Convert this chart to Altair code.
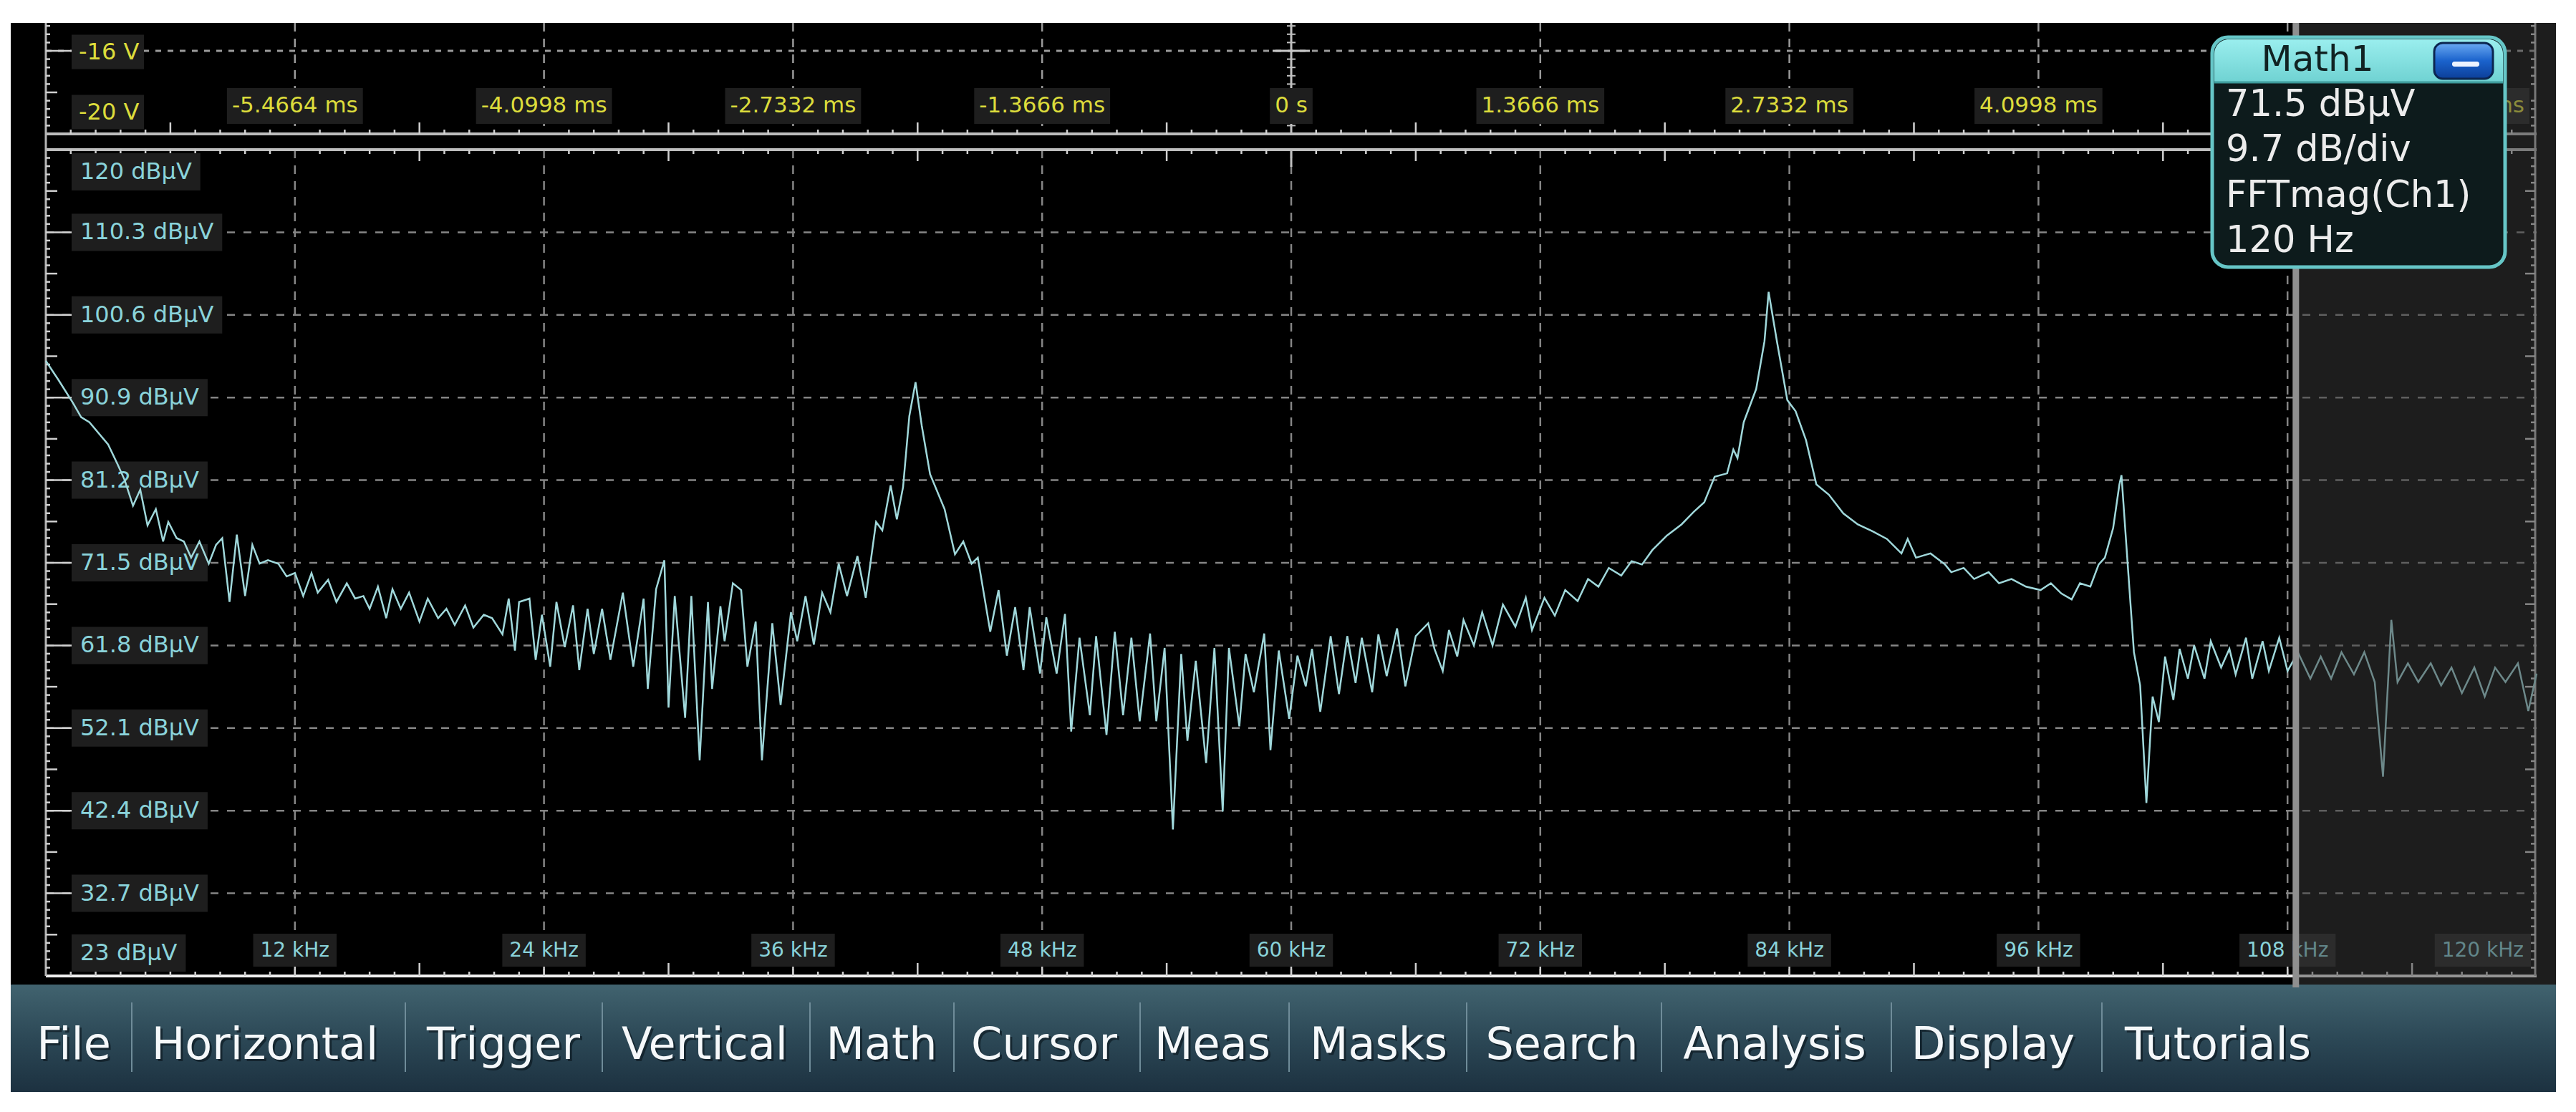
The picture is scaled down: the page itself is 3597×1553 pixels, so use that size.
import altair as alt
import pandas as pd

# ---------------- data ----------------
FREQ_KHZ = [
    0.0, 0.6, 1.3, 1.7, 2.1, 3.0, 3.45, 3.8, 4.2, 4.55, 4.9, 5.3, 5.65, 5.9, 6.3, 6.65, 7.0, 7.4, 7.85, 8.2,
    8.5, 8.85, 9.2, 9.6, 9.95, 10.3, 10.7, 11.2, 11.6, 12.0, 12.4, 12.8, 13.1, 13.6, 14.0, 14.5, 14.9, 15.3,
    15.6, 16.0, 16.4, 16.7, 17.1, 17.5, 18.0, 18.4, 18.9, 19.3, 19.7, 20.2, 20.6, 21.1, 21.5, 22.0, 22.3,
    22.6, 22.8, 23.3, 23.6, 23.9, 24.3, 24.6, 25.0, 25.4, 25.7, 26.1, 26.4, 26.8, 27.2, 27.8, 28.3, 28.8,
    29.0, 29.4, 29.8, 30.0, 30.3, 30.8, 31.1, 31.5, 31.9, 32.1,
    32.5, 32.7, 33.1, 33.5, 33.8, 34.2, 34.5, 35.0, 35.4, 35.9, 36.2, 36.6, 37.0, 37.4, 37.8, 38.2, 38.6,
    39.1, 39.5, 40.0, 40.3, 40.7, 41.0, 41.3, 41.6, 41.9, 42.2, 42.6, 43.3, 43.8, 44.2, 44.6, 44.9, 45.5,
    45.9, 46.3, 46.7, 47.1, 47.4, 47.9, 48.2, 48.7, 49.1, 49.4, 49.8, 50.3, 50.6, 51.1, 51.5, 51.9, 52.3,
    52.7, 53.2, 53.5, 53.9, 54.3, 54.7, 55.0, 55.4, 55.9, 56.3, 56.7, 57.0, 57.5, 57.8, 58.2, 58.7, 59.0,
    59.4, 59.9, 60.3, 60.7, 61.0, 61.4, 61.9, 62.3, 62.7, 63.1, 63.4, 63.9, 64.2, 64.6, 65.1, 65.5, 66.0,
    66.6,
    66.9, 67.3, 67.6, 68.0, 68.3, 68.8, 69.2, 69.7, 70.2, 70.8, 71.3, 71.6, 72.2, 72.7, 73.2, 73.8, 74.3,
    74.8, 75.3, 75.9, 76.4, 76.9, 77.4, 78.1, 78.8, 79.4, 79.9, 80.4, 81.0, 81.3, 81.5, 81.8, 82.4, 82.8,
    83.0, 83.4, 83.9, 84.3, 84.8, 85.3, 85.9, 86.6, 87.3, 88.0, 88.7, 89.4, 89.7, 90.1, 90.8, 91.5, 91.8,
    92.4, 92.9, 93.6, 94.1, 94.7, 95.4, 96.1, 96.6, 97.1, 97.6, 98.0, 98.5, 98.9, 99.2, 99.6, 99.9, 100.0,
    100.3, 100.6, 100.9, 101.2, 101.5, 101.8, 102.1, 102.5, 102.8, 103.2, 103.5, 104.0, 104.3, 104.8,
    105.2, 105.5, 106.0, 106.3, 106.8, 107.1, 107.6, 108.0, 108.5, 109.1, 109.6, 110.1, 110.6, 111.2,
    111.7, 112.2, 112.6, 113.0, 113.3, 113.8, 114.3, 114.9, 115.4, 115.9, 116.4, 117.0, 117.5, 118.0,
    118.5, 119.1, 119.6, 120.0,
]
LEVEL_DBUV = [
    95.2, 93.0, 90.3, 88.6, 88.0, 85.4, 83.1, 81.2, 78.2, 80.1, 75.9, 77.8, 74.0, 76.3, 74.4, 74.0, 72.1, 74.0,
    71.4, 73.6, 74.4, 66.9, 74.8, 67.6, 73.6, 71.4, 71.8, 71.4, 69.9, 70.3, 67.6, 70.3, 68.0, 69.5, 66.9,
    69.1, 67.3, 67.6, 66.1, 68.7, 65.0, 68.4, 66.1, 68.0, 64.6, 67.3, 65.0, 66.1, 64.2, 66.5, 63.9, 65.4,
    65.0, 63.1, 67.3, 61.2, 66.9, 67.3, 60.1, 65.4, 59.3, 66.9, 61.6, 66.5, 58.9, 66.1, 60.8, 66.1, 60.1,
    68.0, 59.3, 67.3, 56.7, 68.4, 71.8, 54.5, 67.6, 53.3, 67.6, 48.3, 66.9, 56.7,
    66.4, 62.3, 69.1, 68.3, 59.3, 64.6, 48.3, 64.4, 54.8, 65.7, 62.3, 67.6, 61.9, 68.0, 65.7, 71.4, 67.6,
    72.3, 67.4, 76.3, 75.3, 80.6, 76.6, 80.4, 88.7, 92.7, 87.6, 81.9, 77.8, 72.5, 74.0, 71.4, 72.1, 63.4,
    68.3, 60.6, 66.3, 58.9, 66.3, 58.5, 65.1, 58.5, 65.5, 51.7, 62.7, 53.6, 62.9, 51.3, 63.4, 53.6, 62.7,
    52.9, 63.2, 52.9, 61.5, 40.2, 60.8, 50.6, 60.0, 48.0, 61.5, 42.3, 61.5, 52.3, 60.8, 56.3, 63.2, 49.5,
    61.2, 53.2, 60.6, 57.0, 61.4, 54.0, 62.9, 56.1, 62.9, 57.4, 62.7, 56.3, 63.1, 58.2, 63.8, 57.0, 62.9,
    64.4,
    61.4, 58.8, 63.6, 60.5, 64.8, 61.8, 65.7, 61.8, 66.6, 64.0, 67.4, 63.6, 67.4, 65.3, 68.3, 67.0, 69.6,
    68.7, 70.9, 70.0, 71.7, 71.3, 73.0, 74.7, 76.0, 77.5, 78.6, 81.6, 82.0, 84.8, 83.8, 88.0, 91.9, 97.5,
    103.3, 97.5, 90.6, 89.3, 85.9, 80.7, 79.5, 77.3, 76.0, 75.2, 74.3, 72.6, 74.3, 72.1, 72.6, 71.3, 70.4,
    70.9, 69.6, 70.4, 69.1, 69.6, 68.7, 68.3, 69.1, 67.9, 67.2, 69.1, 68.7, 71.3, 72.1, 75.6, 80.7, 81.8,
    71.3, 61.0, 57.1, 43.3, 55.8, 52.8, 60.5, 55.4, 61.4, 57.9, 61.8, 57.9, 62.3, 59.2,
    61.4, 58.4, 62.7, 57.9, 62.3, 58.8, 62.7, 58.8, 61.0, 57.9, 60.5, 57.9, 61.0, 58.4,
    61.0, 57.5, 46.4, 64.8, 57.5, 59.7, 57.5, 59.7, 57.1, 59.2, 56.2, 59.2, 55.8, 59.2,
    57.5, 59.7, 54.1, 58.5,
]

Y_TICKS = [120, 110.3, 100.6, 90.9, 81.2, 71.5, 61.8, 52.1, 42.4, 32.7, 23]
Y_LABELS = ["120 dBµV", "110.3 dBµV", "100.6 dBµV", "90.9 dBµV", "81.2 dBµV", "71.5 dBµV",
            "61.8 dBµV", "52.1 dBµV", "42.4 dBµV", "32.7 dBµV", "23 dBµV"]
X_TICKS = [12, 24, 36, 48, 60, 72, 84, 96, 108, 120]
X_LABELS = ["12 kHz", "24 kHz", "36 kHz", "48 kHz", "60 kHz", "72 kHz", "84 kHz", "96 kHz",
            "108 kHz", "120 kHz"]
# time labels of the upper panel (the 5.4664 ms one is hidden behind the Math1 box,
# of the right-edge one only "ms" is visible)
T_TICKS = [-5.4664, -4.0998, -2.7332, -1.3666, 0, 1.3666, 2.7332, 4.0998, 6.833]
T_LABELS = ["-5.4664 ms", "-4.0998 ms", "-2.7332 ms", "-1.3666 ms", "0 s", "1.3666 ms",
            "2.7332 ms", "4.0998 ms", "ms"]
V_TICKS = [-16, -20]
V_LABELS = ["-16 V", "-20 V"]
GATE_KHZ = 108.4
MATH_TITLE = "Math1"
MATH_LINES = ["71.5 dBµV", "9.7 dB/div", "FFTmag(Ch1)", "120 Hz"]
MENU_ITEMS = ["File", "Horizontal", "Trigger", "Vertical", "Math", "Cursor", "Meas", "Masks",
              "Search", "Analysis", "Display", "Tutorials"]

# ---------------- layout ----------------
W, H = 3478, 1154
PPK = W / 120.0
PPD = H / 97.0
PPV = 116 / 4.0
PPT = W / 13.666
FONT = "DejaVu Sans"
MENU_CX = [39, 306, 639, 920, 1167, 1394, 1629, 1861, 2117, 2414, 2719, 3033]
MENU_SEP = [120, 502, 777, 1067, 1268, 1528, 1736, 1984, 2256, 2577, 2871]
MATH_Y = [-62, 1, 65, 128]

F_SCALE = alt.Scale(domain=[0, 120], nice=False, zero=False)
DB_SCALE = alt.Scale(domain=[23, 120], nice=False, zero=False)
T_SCALE = alt.Scale(domain=[-6.833, 6.833], nice=False, zero=False)
V_SCALE = alt.Scale(domain=[-20, -16], range=[-22, -138], nice=False, zero=False)

ONE = pd.DataFrame({"k": [0]})

CW = {".": .318, " ": .318, "-": .361, "k": .579, "H": .752, "z": .525, "m": .974, "s": .521,
      "d": .635, "B": .686, "µ": .636, "V": .684}


def text_w(s, size):
    return sum(CW.get(c, .636) for c in s) * size


def df(name, vals):
    return pd.DataFrame({name: vals})


def box(x0, x1, y0, y1, **kw):
    return alt.Chart(ONE).mark_rect(**kw).encode(
        x=alt.value(x0), x2=alt.value(x1), y=alt.value(y0), y2=alt.value(y1))


def vrules(data, field, scale, y0, y1, **kw):
    return alt.Chart(data).mark_rule(**kw).encode(
        x=alt.X(f"{field}:Q", scale=scale, axis=None), y=alt.value(y0), y2=alt.value(y1))


def hrules(data, field, scale, x0, x1, **kw):
    return alt.Chart(data).mark_rule(**kw).encode(
        y=alt.Y(f"{field}:Q", scale=scale, axis=None), x=alt.value(x0), x2=alt.value(x1))


def hline(x0, x1, y, **kw):
    return alt.Chart(ONE).mark_rule(**kw).encode(x=alt.value(x0), x2=alt.value(x1), y=alt.value(y))


def vline(x, y0, y1, **kw):
    return alt.Chart(ONE).mark_rule(**kw).encode(x=alt.value(x), y=alt.value(y0), y2=alt.value(y1))


def label(txt, x, y, **kw):
    return alt.Chart(ONE).mark_text(**kw).encode(x=alt.value(x), y=alt.value(y), text=alt.value(txt))


layers = []

# screen background + menu bar
layers.append(box(-49, 3505, -177, 1166, fill="#000000"))
menu_grad = alt.LinearGradient(gradient="linear", x1=0, x2=0, y1=0, y2=1, stops=[
    alt.GradientStop(color="#41636f", offset=0), alt.GradientStop(color="#2c4856", offset=0.5),
    alt.GradientStop(color="#1c3140", offset=1)])
layers.append(box(-49, 3505, 1166, 1316, fill=menu_grad))
for sx in MENU_SEP:
    layers.append(vline(sx, 1191, 1288, color="#6f8c99", strokeWidth=2))
for item, cx in zip(MENU_ITEMS, MENU_CX):
    layers.append(label(item, cx + 3, 1254, font=FONT, fontSize=62, color="#0d1a22", align="center",
                        baseline="middle", opacity=0.7))
    layers.append(label(item, cx, 1251, font=FONT, fontSize=62, color="#f5f8fa", align="center",
                        baseline="middle"))

# grid (bottom panel)
GRID = dict(color="#858585", strokeWidth=2.5)
layers.append(vrules(df("f", X_TICKS[:-1]), "f", F_SCALE, 0, H, strokeDash=[12, 10], **GRID))
layers.append(hrules(df("db", Y_TICKS[1:-1]), "db", DB_SCALE, 0, W, strokeDash=[11, 12], **GRID))
# grid (top panel)
layers.append(vrules(df("f", [f for f in X_TICKS[:-1] if f != 60]), "f", F_SCALE, -177, -22,
                     strokeDash=[12, 10], color="#9a9a9a", strokeWidth=2.5))
layers.append(hrules(df("v", [-16]), "v", V_SCALE, 0, W, strokeDash=[8, 9], color="#9c9c9c",
                     strokeWidth=3))
layers.append(vrules(df("t", [0]), "t", T_SCALE, -177, -22, color="#c0c0c0", strokeWidth=3))
layers.append(vrules(df("t", [0]), "t", T_SCALE, 0, 24, color="#c0c0c0", strokeWidth=3))
cross = pd.DataFrame({"v": [-20 + 0.4 * i for i in range(1, 14)]})
cross["t0"] = -6 / PPT
cross["t1"] = 6 / PPT
layers.append(alt.Chart(cross).mark_rule(color="#c0c0c0", strokeWidth=2).encode(
    x=alt.X("t0:Q", scale=T_SCALE, axis=None), x2="t1:Q", y=alt.Y("v:Q", scale=V_SCALE, axis=None)))
seg = pd.DataFrame({"v": [-16], "t0": [-26 / PPT], "t1": [26 / PPT]})
layers.append(alt.Chart(seg).mark_rule(color="#c8c8c8", strokeWidth=3).encode(
    x=alt.X("t0:Q", scale=T_SCALE, axis=None), x2="t1:Q", y=alt.Y("v:Q", scale=V_SCALE, axis=None)))

# axis lines
layers.append(hline(0, W, H, color="#f0f0f0", strokeWidth=4))
layers.append(hline(0, W, 0, color="#bdbdbd", strokeWidth=4))
layers.append(hline(0, W, -22, color="#bdbdbd", strokeWidth=4))
layers.append(vline(0, -177, H, color="#b5b5b5", strokeWidth=3))
layers.append(vline(W - 2, -177, H, color="#b5b5b5", strokeWidth=3))

# ruler ticks
KHZ_MINOR = [round(1.2 * i, 2) for i in range(1, 100) if i % 5 != 0]
KHZ_MID = [6 + 12 * i for i in range(10)]
DB_MINOR = [23 + 0.97 * i for i in range(1, 100) if i % 5 != 0]
DB_MID = [23 + 4.85 + 9.7 * i for i in range(10)]
V_MINOR = [-20 + 0.4 * i for i in range(1, 14) if i % 5 != 0]
TK = dict(color="#d0d0d0", strokeWidth=2.5)
layers.append(vrules(df("f", KHZ_MINOR), "f", F_SCALE, H - 6, H, **TK))
layers.append(vrules(df("f", KHZ_MID), "f", F_SCALE, H - 18, H, **TK))
layers.append(vrules(df("f", X_TICKS[:-1]), "f", F_SCALE, H - 30, H, **TK))
layers.append(vrules(df("f", KHZ_MINOR), "f", F_SCALE, 0, 6, **TK))
layers.append(vrules(df("f", KHZ_MID), "f", F_SCALE, 0, 16, **TK))
layers.append(vrules(df("f", KHZ_MINOR), "f", F_SCALE, -28, -22, **TK))
layers.append(vrules(df("f", KHZ_MID), "f", F_SCALE, -38, -22, **TK))
layers.append(hrules(df("db", DB_MINOR), "db", DB_SCALE, 0, 6, **TK))
layers.append(hrules(df("db", DB_MID), "db", DB_SCALE, 0, 16, **TK))
layers.append(hrules(df("db", Y_TICKS[1:-1]), "db", DB_SCALE, 0, 36, **TK))
layers.append(hrules(df("db", DB_MINOR), "db", DB_SCALE, W - 8, W - 2, **TK))
layers.append(hrules(df("db", DB_MID), "db", DB_SCALE, W - 16, W - 2, **TK))
layers.append(hrules(df("v", V_MINOR), "v", V_SCALE, 0, 6, **TK))
layers.append(hrules(df("v", [-18]), "v", V_SCALE, 0, 16, **TK))
layers.append(hrules(df("v", [-16]), "v", V_SCALE, 0, 36, **TK))
layers.append(hrules(df("v", V_MINOR), "v", V_SCALE, W - 8, W - 2, **TK))

BOXC = "#1e1e1e"
CYAN = "#8ad3da"
YEL = "#dcdc3c"

# y labels (dBµV)
yl = pd.DataFrame({"db": Y_TICKS, "label": Y_LABELS})
n = len(yl)
off = [31 if i == 0 else (-32 if i == n - 1 else 0) for i in range(n)]
yl["yc"] = [v - o / PPD for v, o in zip(Y_TICKS, off)]
yl["y0"] = yl["yc"] - 26 / PPD
yl["y1"] = yl["yc"] + 26 / PPD
yl["x0"] = 36 / PPK
yl["x1"] = [(36 + text_w(s, 32) + 24) / PPK for s in Y_LABELS]
layers.append(alt.Chart(yl).mark_rect(fill=BOXC).encode(
    x=alt.X("x0:Q", scale=F_SCALE, axis=None), x2="x1:Q",
    y=alt.Y("y0:Q", scale=DB_SCALE, axis=None), y2="y1:Q"))
layers.append(alt.Chart(yl).mark_text(font=FONT, fontSize=32, color=CYAN, align="left",
                                      baseline="middle").encode(
    x=alt.value(48), y=alt.Y("yc:Q", scale=DB_SCALE, axis=None), text="label:N"))

# x labels (kHz)
xl = pd.DataFrame({"f": X_TICKS, "label": X_LABELS})
xw = [text_w(s, 28) + 20 for s in X_LABELS]
cpx = [f * PPK for f in X_TICKS]
cpx[-1] = W - 8 - xw[-1] / 2
xl["cf"] = [c / PPK for c in cpx]
xl["x0"] = [(c - w / 2) / PPK for c, w in zip(cpx, xw)]
xl["x1"] = [(c + w / 2) / PPK for c, w in zip(cpx, xw)]
layers.append(alt.Chart(xl).mark_rect(fill=BOXC).encode(
    x=alt.X("x0:Q", scale=F_SCALE, axis=None), x2="x1:Q", y=alt.value(1095), y2=alt.value(1141)))
layers.append(alt.Chart(xl).mark_text(font=FONT, fontSize=28, color=CYAN, align="center",
                                      baseline="middle").encode(
    x=alt.X("cf:Q", scale=F_SCALE, axis=None), y=alt.value(1119), text="label:N"))

# time labels (top panel)
tl = pd.DataFrame({"t": T_TICKS, "label": T_LABELS})
tw = [text_w(s, 31) + 14 for s in T_LABELS]
tpx = [(t + 6.833) * PPT for t in T_TICKS]
tpx[-1] = W - 10 - tw[-1] / 2
tl["tc"] = [p / PPT - 6.833 for p in tpx]
tl["t0"] = [(p - w / 2) / PPT - 6.833 for p, w in zip(tpx, tw)]
tl["t1"] = [(p + w / 2) / PPT - 6.833 for p, w in zip(tpx, tw)]
layers.append(alt.Chart(tl).mark_rect(fill=BOXC).encode(
    x=alt.X("t0:Q", scale=T_SCALE, axis=None), x2="t1:Q", y=alt.value(-86), y2=alt.value(-36)))
layers.append(alt.Chart(tl).mark_text(font=FONT, fontSize=31, color=YEL, align="center",
                                      baseline="middle").encode(
    x=alt.X("tc:Q", scale=T_SCALE, axis=None), y=alt.value(-61), text="label:N"))

# volt labels (top panel)
vl = pd.DataFrame({"v": V_TICKS, "label": V_LABELS})
vl["vc"] = [V_TICKS[0] - 1.5 / PPV, V_TICKS[1] + 30.5 / PPV]
vl["v0"] = vl["vc"] - 24 / PPV
vl["v1"] = vl["vc"] + 24 / PPV
layers.append(alt.Chart(vl).mark_rect(fill=BOXC).encode(
    x=alt.value(36), x2=alt.value(137), y=alt.Y("v0:Q", scale=V_SCALE, axis=None), y2="v1:Q"))
layers.append(alt.Chart(vl).mark_text(font=FONT, fontSize=32, color=YEL, align="left",
                                      baseline="middle").encode(
    x=alt.value(46), y=alt.Y("vc:Q", scale=V_SCALE, axis=None), text="label:N"))

# FFT trace
trace = pd.DataFrame({"f": FREQ_KHZ, "db": LEVEL_DBUV})
layers.append(alt.Chart(trace).mark_line(color="#a0d8db", strokeWidth=2.5).encode(
    x=alt.X("f:Q", scale=F_SCALE, axis=None), y=alt.Y("db:Q", scale=DB_SCALE, axis=None)))

# gated (shaded) region beyond the gate cursor
layers.append(alt.Chart(df("f", [GATE_KHZ])).mark_rect(fill="#3a3a3a", opacity=0.5).encode(
    x=alt.X("f:Q", scale=F_SCALE, axis=None), x2=alt.value(3505), y=alt.value(-177),
    y2=alt.value(1166)))
layers.append(vrules(df("f", [GATE_KHZ]), "f", F_SCALE, -177, 1170, color="#8f8f8f",
                     strokeWidth=9))

# Math1 readout box
layers.append(box(3025, 3434, -157, 164, fill="#0d1b1c", stroke="#66c6c7", strokeWidth=5,
                  cornerRadius=22))
hdr_grad = alt.LinearGradient(gradient="linear", x1=0, x2=0, y1=0, y2=1, stops=[
    alt.GradientStop(color="#9aeeee", offset=0), alt.GradientStop(color="#6fd2d2", offset=1)])
layers.append(alt.Chart(ONE).mark_rect(fill=hdr_grad, cornerRadiusTopLeft=20,
                                        cornerRadiusTopRight=20).encode(
    x=alt.value(3028), x2=alt.value(3431), y=alt.value(-154), y2=alt.value(-94)))
layers.append(hline(3028, 3431, -94, color="#3f9c9c", strokeWidth=3))
btn_grad = alt.LinearGradient(gradient="linear", x1=0, x2=0, y1=0, y2=1, stops=[
    alt.GradientStop(color="#6aaaf2", offset=0), alt.GradientStop(color="#1a62cc", offset=0.5),
    alt.GradientStop(color="#0c3f98", offset=1)])
layers.append(box(3335, 3417, -149, -99, fill=btn_grad, stroke="#0b2650", strokeWidth=3,
                  cornerRadius=12))
layers.append(box(3360, 3398, -123, -116, fill="#eef4ff", cornerRadius=3))
layers.append(label(MATH_TITLE, 3172, -125, font=FONT, fontSize=50, color="#112222",
                    align="center", baseline="middle"))
for txt, yy in zip(MATH_LINES, MATH_Y):
    layers.append(label(txt, 3044, yy, font=FONT, fontSize=51, color="#ececec", align="left",
                        baseline="middle"))

chart = alt.layer(*layers).resolve_scale(x="independent", y="independent").properties(
    width=W, height=H,
    padding={"left": 56, "top": 201, "right": 27, "bottom": 162},
    autosize=alt.AutoSizeParams(type="none"),
    background="white",
).configure_view(stroke="transparent")

chart.save("out.html", embed_options={"renderer": "svg", "actions": False})
